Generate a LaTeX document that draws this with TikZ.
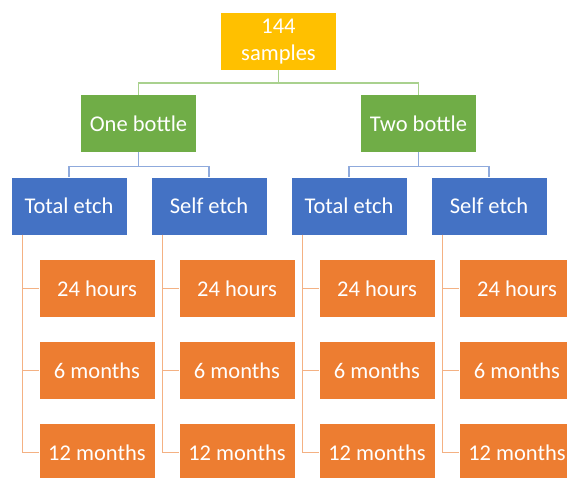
\documentclass[tikz,border=0pt]{standalone}
\usepackage{fontspec}
\setmainfont{Carlito}
\usetikzlibrary{calc}
\definecolor{cyellow}{HTML}{FFC000}
\definecolor{cgreen}{HTML}{70AD47}
\definecolor{cblue}{HTML}{4472C4}
\definecolor{corange}{HTML}{ED7D31}
\definecolor{lgreen}{HTML}{A9D18E}
\definecolor{lblue}{HTML}{8FAADC}
\definecolor{lorange}{HTML}{F4B183}
\tikzset{
  boxbase/.style={inner sep=0pt, minimum width=115pt, minimum height=57pt, text=white,
    font=\fontsize{22.5}{27}\selectfont, align=center},
  ybox/.style={boxbase, fill=cyellow},
  gbox/.style={boxbase, fill=cgreen},
  bbox/.style={boxbase, fill=cblue},
  obox/.style={boxbase, fill=corange},
  gline/.style={draw=lgreen, line width=1.2pt},
  bline/.style={draw=lblue, line width=1.2pt},
  oline/.style={draw=lorange, line width=1.2pt},
}
\begin{document}
\begin{tikzpicture}[x=1pt,y=-1pt]
\useasboundingbox (0,0) rectangle (567,477);
\fill[white] (0,0) rectangle (567,477);
\node[ybox] (top) at (278.5,41.5) {144\\samples};
\node[gbox] (g1) at (138.5,123.5) {One bottle};
\node[gbox] (g2) at (418.5,123.5) {Two bottle};
\node[bbox] (b1) at (69,206) {Total etch};
\node[bbox] (b2) at (209,206) {Self etch};
\node[bbox] (b3) at (349,206) {Total etch};
\node[bbox] (b4) at (489,206) {Self etch};
\foreach \i/\x in {1/97,2/237,3/377,4/517}{
  \node[obox] (o\i a) at (\x,288.5) {24 hours};
  \node[obox] (o\i b) at (\x,370.5) {6 months};
  \node[obox] (o\i c) at (\x,452.5) {12 months};
}
\coordinate (hg) at (0,83);
\draw[gline] (top.south) |- (hg -| g1.north) -- (g1.north);
\draw[gline] (top.south) |- (hg -| g2.north) -- (g2.north);
\coordinate (hb) at (0,166.5);
\foreach \g/\b in {g1/b1,g1/b2,g2/b3,g2/b4}{
  \draw[bline] (\g.south) |- (hb -| \b.north) -- (\b.north);
}
\foreach \i in {1,2,3,4}{
  \coordinate (s\i) at ([xshift=11pt]b\i.south west);
  \draw[oline] (s\i) |- (o\i a.west);
  \draw[oline] (s\i) |- (o\i b.west);
  \draw[oline] (s\i) |- (o\i c.west);
}
\end{tikzpicture}
\end{document}
